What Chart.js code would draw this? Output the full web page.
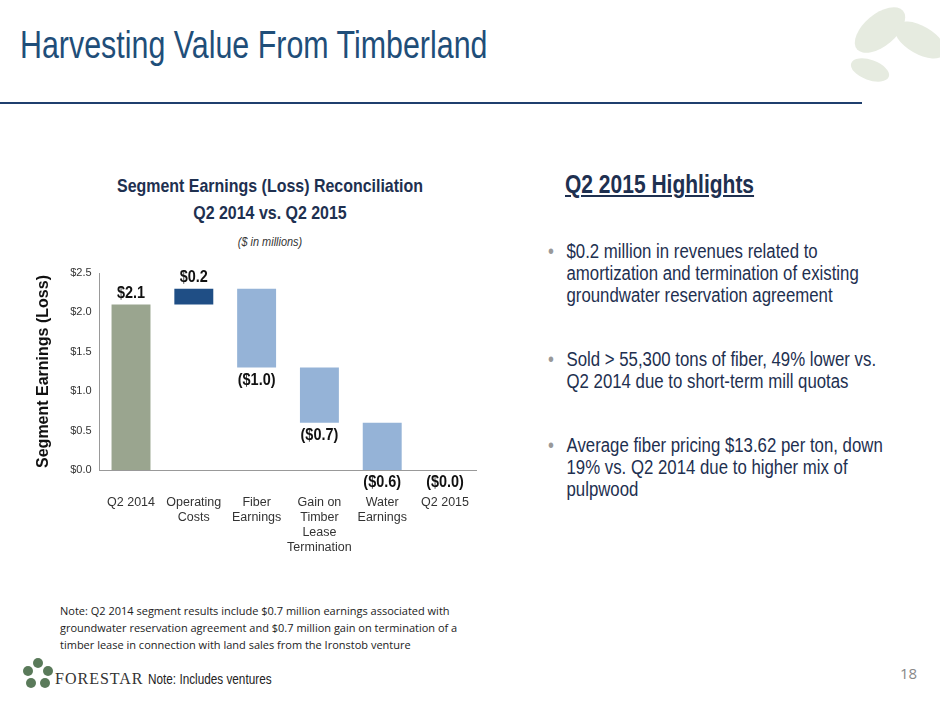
<!DOCTYPE html>
<html><head><meta charset="utf-8">
<script src="https://cdn.jsdelivr.net/npm/chart.js"></script>
<style>
body{margin:0;width:940px;height:705px;background:#fff;position:relative;overflow:hidden;font-family:"Liberation Sans",Arial,sans-serif;}
.abs{position:absolute;}
.nar{transform:scaleX(0.84);transform-origin:0 0;}
#title{left:20px;top:24px;font-size:38px;color:#1f4e79;white-space:nowrap;transform:scaleX(0.8);transform-origin:0 0;}
#rule{left:0;top:102px;width:862px;height:2px;background:#1f3f6e;}
#ct{left:60px;top:172px;width:500px;text-align:center;color:#1e3050;font-weight:bold;font-size:19px;line-height:27px;transform:scaleX(0.84);transform-origin:0 0;}
#ct i{font-weight:normal;font-size:13px;color:#333;}
#hl{left:565px;top:170px;font-size:25px;font-weight:bold;color:#1e3050;text-decoration:underline;white-space:nowrap;}
ul{left:548px;top:240px;margin:0;padding:0 0 0 22px;width:382px;color:#1e3050;font-size:20px;line-height:22px;list-style:none;}
li{position:relative;margin-bottom:42px;}
li:before{content:"•";position:absolute;left:-22px;color:#999;}
#note{left:60px;top:602px;font-family:"Open Sans",sans-serif;font-size:11px;color:#222;line-height:17px;width:430px;}
#note2{left:148px;top:671px;font-size:14px;color:#222;}
#pg{left:900px;top:663px;font-size:15px;color:#888;font-family:"Open Sans",sans-serif;}
#logo{left:55px;top:670px;font-family:"Liberation Serif",serif;font-size:16px;color:#333;letter-spacing:1px;}
</style></head><body>
<div class="abs" id="title">Harvesting Value From Timberland</div>
<div class="abs" id="rule"></div>
<svg class="abs" style="left:820px;top:0" width="120" height="110"><ellipse cx="60" cy="30" rx="30" ry="16" fill="#e6ebe0" transform="rotate(-40 60 30)"/><ellipse cx="100" cy="40" rx="28" ry="14" fill="#e6ebe0" transform="rotate(30 100 40)"/><ellipse cx="50" cy="70" rx="20" ry="10" fill="#e6ebe0" transform="rotate(20 50 70)"/></svg>
<div class="abs" id="ct">Segment Earnings (Loss) Reconciliation<br>Q2 2014 vs. Q2 2015<br><i>($ in millions)</i></div>
<div class="abs" style="left:30px;top:255px;width:460px;height:320px"><canvas id="c" width="460" height="320"></canvas></div>
<div class="abs nar" id="hl">Q2 2015 Highlights</div>
<ul class="abs nar">
<li>$0.2 million in revenues related to amortization and termination of existing groundwater reservation agreement</li>
<li>Sold &gt; 55,300 tons of fiber, 49% lower vs. Q2 2014 due to short-term mill quotas</li>
<li>Average fiber pricing $13.62 per ton, down 19% vs. Q2 2014 due to higher mix of pulpwood</li>
</ul>
<div class="abs" id="note">Note: Q2 2014 segment results include $0.7 million earnings associated with groundwater reservation agreement and $0.7 million gain on termination of a timber lease in connection with land sales from the Ironstob venture</div>
<svg class="abs" style="left:20px;top:655px" width="36" height="40"><g fill="#5a7a5a"><circle cx="18" cy="8" r="5"/><circle cx="8" cy="16" r="5"/><circle cx="28" cy="16" r="5"/><circle cx="11" cy="28" r="5"/><circle cx="25" cy="28" r="5"/></g><circle cx="18" cy="19" r="4" fill="#fff"/></svg>
<div class="abs" id="logo">FORESTAR</div>
<div class="abs nar" id="note2">Note: Includes ventures</div>
<div class="abs" id="pg">18</div>
<script>
const categories = [['Q2 2014'],['Operating','Costs'],['Fiber','Earnings'],['Gain on','Timber','Lease','Termination'],['Water','Earnings'],['Q2 2015']];
const barLow  = [0, 2.1, 1.3, 0.6, 0, 0];
const barHigh = [2.1, 2.3, 2.3, 1.3, 0.6, 0];
const labels  = ['$2.1','$0.2','($1.0)','($0.7)','($0.6)','($0.0)'];
const labelAbove = [true, true, false, false, false, false];
const colors = ['#9aa58f','#1f4e85','#95b3d7','#95b3d7','#95b3d7','#95b3d7'];

const valueLabels = {
  id:'valueLabels',
  afterDatasetsDraw(chart){
    const ctx = chart.ctx, meta = chart.getDatasetMeta(0), y = chart.scales.y;
    ctx.save();
    ctx.font = 'bold 17px "Liberation Sans", sans-serif';
    ctx.fillStyle = '#111'; ctx.textAlign = 'center';
    meta.data.forEach((b,i)=>{
      const ty = labelAbove[i] ? y.getPixelForValue(barHigh[i]) - 3 : y.getPixelForValue(barLow[i]) + 4;
      ctx.save(); ctx.translate(b.x, ty); ctx.scale(0.85,1);
      ctx.textBaseline = labelAbove[i] ? 'bottom' : 'top';
      ctx.fillText(labels[i], 0, 0);
      ctx.restore();
    });
    ctx.restore();
  }
};

new Chart(document.getElementById('c'), {
  type:'bar',
  data:{labels:categories, datasets:[{data:barLow.map((l,i)=>[l,barHigh[i]]), backgroundColor:colors, barPercentage:0.62, categoryPercentage:1}]},
  options:{
    responsive:false, animation:false,
    layout:{padding:{top:18,right:12}},
    plugins:{legend:{display:false}, tooltip:{enabled:false}},
    scales:{
      x:{grid:{display:false, drawTicks:true, tickLength:5}, border:{color:'#999'},
         ticks:{color:'#333', font:{size:12.5}, padding:20, maxRotation:0, autoSkip:false}},
      y:{min:0,max:2.5, grid:{display:false, tickLength:5, drawTicks:true}, border:{color:'#999'},
         ticks:{stepSize:0.5, color:'#333', font:{size:11}, callback:v=>'$'+v.toFixed(1)},
         title:{display:true, text:'Segment Earnings (Loss)', color:'#111', font:{size:16, weight:'bold'}, padding:{bottom:14}}}
    }
  },
  plugins:[valueLabels]
});
</script>
</body></html>
